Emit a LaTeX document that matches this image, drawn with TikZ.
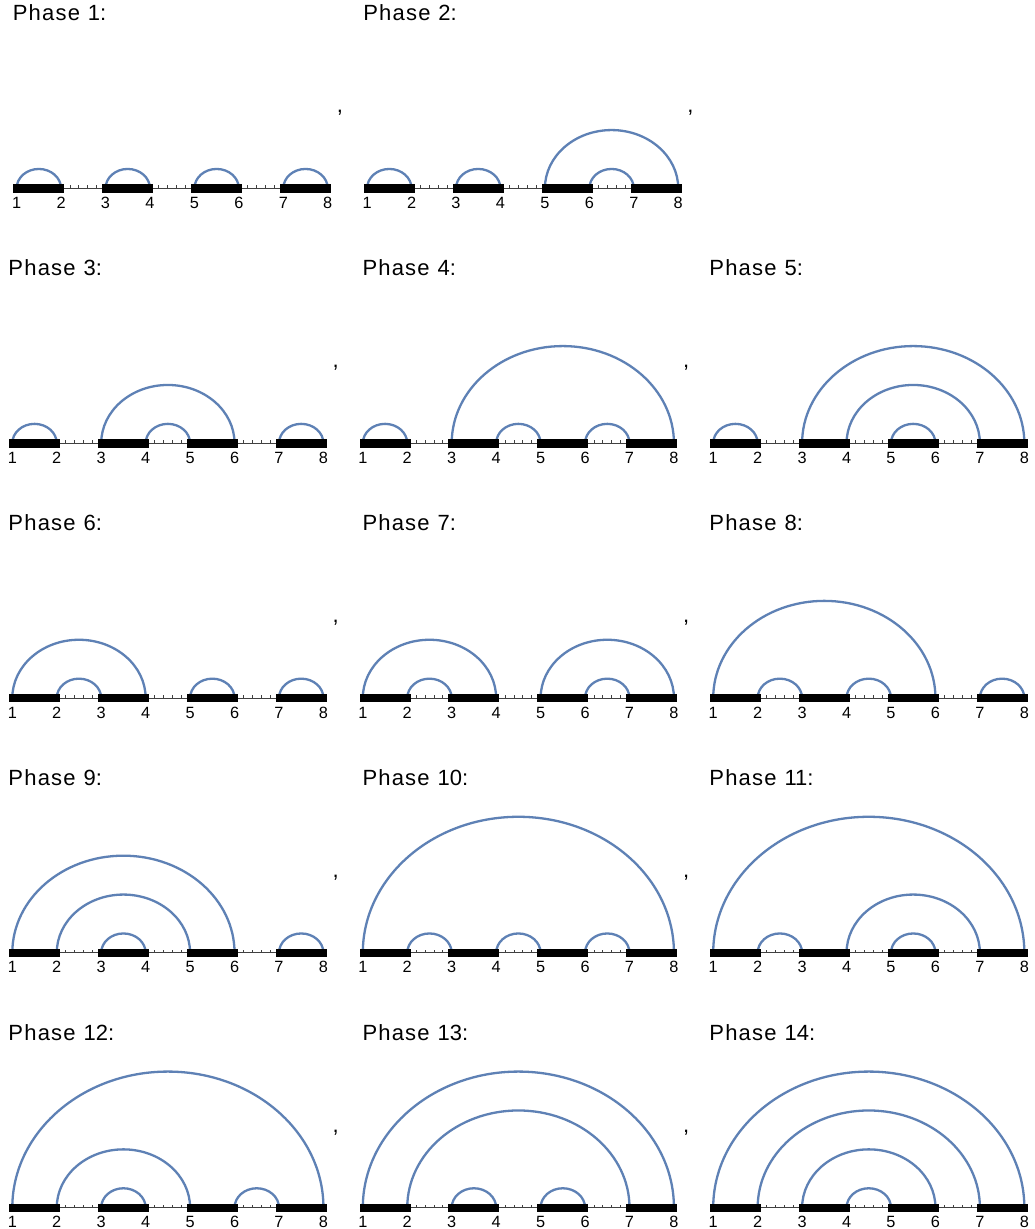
\documentclass[tikz,border=0pt]{standalone}
\usepackage{fontspec}
\setmainfont{Liberation Sans}
\usetikzlibrary{calc}
\definecolor{arcblue}{rgb}{0.368,0.507,0.71}
\tikzset{
 arcline/.style={draw=arcblue, line width=2.3pt},
 axisline/.style={draw=black!75, line width=0.9pt},
 tickline/.style={draw=black!75, line width=0.8pt},
 barbox/.style={fill=black, draw=none},
 titletext/.style={anchor=base west, inner sep=0pt, font=\fontsize{22}{24}\selectfont},
 ticklabel/.style={anchor=base, inner sep=0pt, font=\fontsize{16.3}{18}\selectfont},
 commatext/.style={anchor=base west, inner sep=0pt, font=\fontsize{22}{24}\selectfont},
}
\newcommand\uu{44.45}
\newcommand\phasepanel[6]{%
\begin{scope}[shift={(#1,#2)}]
 \foreach \k in {1,...,8} { \coordinate (p#3-\k) at ({(\k-1)*\uu},0); }
 \foreach \a/\b in {#4} { \draw[arcline] (p#3-\a) arc[start angle=180, end angle=360, x radius={(\b-\a)*\uu/2}, y radius={(\b-\a)*\uu*0.4375}]; }
 \draw[axisline] (p#3-1) -- (p#3-8);
 \foreach \t in {1,...,34} { \draw[tickline] ({\t*0.2*\uu},0) -- ++(0,-3); }
 \foreach \a/\b in {1/2,3/4,5/6,7/8} { \fill[barbox] ($(p#3-\a)+(-3.3,-4.2)$) rectangle ($(p#3-\b)+(3.3,4.2)$); }
 \foreach \k in {1,...,8} { \node[ticklabel] (p#3-l\k) at ($(p#3-\k)+(0,20)$) {\k}; }
 \node[titletext] (p#3-title) at (#6,-167.5) {{\addfontfeature{LetterSpace=5.5}Phase}\hspace{0.36em}#3:};
 \ifnum#5=1 \node[commatext] (p#3-comma) at (320,-75.5) {,}; \fi
\end{scope}}
\begin{document}
\begin{tikzpicture}[x=1pt,y=-1pt]
\useasboundingbox[fill=white] (0,0) rectangle (1035,1229);
\phasepanel{16.6}{188.4}{1}{1/2,3/4,5/6,7/8}{1}{-4}
\phasepanel{367.1}{188.4}{2}{1/2,3/4,5/8,6/7}{1}{-4}
\phasepanel{12.3}{443.3}{3}{1/2,3/6,4/5,7/8}{1}{-4}
\phasepanel{362.8}{443.3}{4}{1/2,3/8,4/5,6/7}{1}{-0.5}
\phasepanel{713.2}{443.3}{5}{1/2,3/8,4/7,5/6}{0}{-4}
\phasepanel{12.3}{698.1}{6}{1/4,2/3,5/6,7/8}{1}{-4}
\phasepanel{362.8}{698.1}{7}{1/4,2/3,5/8,6/7}{1}{-0.5}
\phasepanel{713.2}{698.1}{8}{1/6,2/3,4/5,7/8}{0}{-4}
\phasepanel{12.3}{952.9}{9}{1/6,2/5,3/4,7/8}{1}{-4}
\phasepanel{362.8}{952.9}{10}{1/8,2/3,4/5,6/7}{1}{-0.5}
\phasepanel{713.2}{952.9}{11}{1/8,2/3,4/7,5/6}{0}{-4}
\phasepanel{12.3}{1207.7}{12}{1/8,2/5,3/4,6/7}{1}{-4}
\phasepanel{362.8}{1207.7}{13}{1/8,2/7,3/4,5/6}{1}{-0.5}
\phasepanel{713.2}{1207.7}{14}{1/8,2/7,3/6,4/5}{0}{-4}
\end{tikzpicture}
\end{document}
